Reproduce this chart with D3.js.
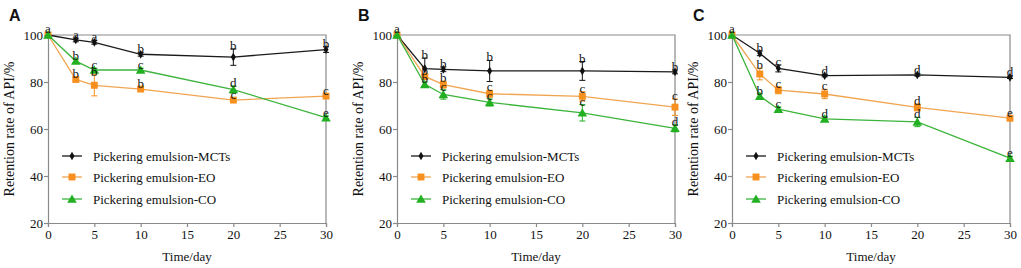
<!DOCTYPE html>
<html>
<head>
<meta charset="utf-8">
<script src="https://cdn.jsdelivr.net/npm/d3@7"></script>
<style>
  body { margin: 0; background: #fff; }
  svg { display: block; }
</style>
</head>
<body>
<svg id="chart" width="1021" height="268"></svg>
<script>
// --- Data ---
const days = [0, 3, 5, 10, 20, 30];
const seriesNames = ["Pickering emulsion-MCTs", "Pickering emulsion-EO", "Pickering emulsion-CO"];
const panelLabels = ["A", "B", "C"];
const xTicks = [0, 5, 10, 15, 20, 25, 30];
const yTicks = [20, 40, 60, 80, 100];

// Panel A
const aMCTs = [100, 97.9, 96.9, 91.8, 90.6, 93.8];
const aMCTsErr = [0.3, 0.8, 0.8, 0.8, 3.5, 1.2];
const aMCTsSig = ["a", "a", "a", "b", "b", "b"];
const aEO = [100, 81.1, 78.6, 77.0, 72.3, 74.0];
const aEOErr = [0.3, 1.0, 4.5, 0.8, 0.8, 0.8];
const aEOSig = ["", "b", "b", "b", "c", "c"];
const aCO = [100, 88.9, 85.1, 85.1, 76.8, 64.8];
const aCOErr = [0.3, 0.8, 0.8, 0.8, 1.5, 0.8];
const aCOSig = ["", "b", "c", "c", "d", "e"];

// Panel B
const bMCTs = [100, 85.7, 85.4, 84.7, 84.7, 84.3];
const bMCTsErr = [0.3, 4.5, 1.0, 4.5, 4.0, 0.8];
const bMCTsSig = ["a", "b", "b", "b", "b", "b"];
const bEO = [100, 82.4, 78.9, 75.0, 73.9, 69.3];
const bEOErr = [0.3, 1.0, 1.5, 1.5, 2.0, 3.5];
const bEOSig = ["", "b", "b", "c", "c", "c"];
const bCO = [100, 79.0, 74.7, 71.3, 66.9, 60.3];
const bCOErr = [0.3, 1.0, 2.0, 1.5, 3.5, 1.5];
const bCOSig = ["", "b", "c", "c", "c", "d"];

// Panel C
const cMCTs = [100, 92.2, 85.8, 82.7, 83.0, 82.0];
const cMCTsErr = [0.3, 1.0, 1.5, 0.5, 0.5, 0.5];
const cMCTsSig = ["a", "b", "c", "d", "d", "d"];
const cEO = [100, 83.4, 76.5, 74.9, 69.2, 64.6];
const cEOErr = [0.3, 2.5, 1.5, 2.0, 1.5, 1.0];
const cEOSig = ["", "b", "c", "c", "d", "e"];
const cCO = [100, 74.0, 68.4, 64.3, 63.0, 47.6];
const cCOErr = [0.3, 1.0, 1.0, 1.0, 2.0, 0.8];
const cCOSig = ["", "b", "c", "d", "d", "e"];

const panels = [
  [[aMCTs, aMCTsErr, aMCTsSig], [aEO, aEOErr, aEOSig], [aCO, aCOErr, aCOSig]],
  [[bMCTs, bMCTsErr, bMCTsSig], [bEO, bEOErr, bEOSig], [bCO, bCOErr, bCOSig]],
  [[cMCTs, cMCTsErr, cMCTsSig], [cEO, cEOErr, cEOSig], [cCO, cCOErr, cCOSig]]
];

// --- Styles ---
const serif = "'Liberation Serif', 'Times New Roman', serif";
const axisColor = "#8a8a8a";
const lineColors = ["#1a1a1a", "#f0a552", "#3cb43c"];
const markColors = ["#111111", "#f7901e", "#22b022"];
const symbols = [d3.symbolDiamond, d3.symbolSquare, d3.symbolTriangle];
const symbolSizes = [22, 48, 40];

// --- Layout ---
const panelX = [0, 349, 684];
const margin = { left: 48, top: 35, bottom: 45 };
const plotW = 278;
const plotH = 268 - margin.top - margin.bottom;

const svg = d3.select("#chart");

panels.forEach((series, p) => {
  const g = svg.append("g").attr("transform", `translate(${panelX[p]},0)`);

  const x = d3.scaleLinear().domain([0, 30]).range([margin.left, margin.left + plotW]);
  const y = d3.scaleLinear().domain([20, 100]).range([margin.top + plotH, margin.top]);

  // panel letter
  g.append("text")
    .attr("x", 9).attr("y", 21)
    .attr("font-family", "Arial, 'Liberation Sans', sans-serif")
    .attr("font-weight", "bold").attr("font-size", 16)
    .attr("fill", "#111")
    .text(panelLabels[p]);

  // frame (top & right)
  g.append("path")
    .attr("d", `M${x(0)},${y(100)}H${x(30)}V${y(20)}`)
    .attr("fill", "none").attr("stroke", axisColor).attr("stroke-width", 1.2);

  // axes
  const xAxis = g.append("g")
    .attr("transform", `translate(0,${y(20)})`)
    .call(d3.axisBottom(x).tickValues(xTicks).tickSize(4).tickPadding(3));
  const yAxis = g.append("g")
    .attr("transform", `translate(${x(0)},0)`)
    .call(d3.axisLeft(y).tickValues(yTicks).tickSize(4).tickPadding(1));
  [xAxis, yAxis].forEach(ax => {
    ax.select(".domain").attr("stroke", axisColor).attr("stroke-width", 1.2);
    ax.selectAll(".tick line").attr("stroke", axisColor).attr("stroke-width", 1.2);
    ax.selectAll(".tick text")
      .attr("fill", "#111").attr("font-family", serif).attr("font-size", 13);
  });

  // axis titles
  g.append("text")
    .attr("x", x(15)).attr("y", 261)
    .attr("text-anchor", "middle")
    .attr("font-family", serif).attr("font-size", 13).attr("fill", "#111")
    .text("Time/day");
  g.append("text")
    .attr("transform", `translate(14,${y(60)}) rotate(-90)`)
    .attr("text-anchor", "middle")
    .attr("font-family", serif).attr("font-size", 14).attr("fill", "#111")
    .text("Retention rate of API/%");

  const line = d3.line().x((d, i) => x(days[i])).y(d => y(d));

  // lines, error bars, markers
  series.forEach(([vals, errs], s) => {
    g.append("path")
      .attr("d", line(vals))
      .attr("fill", "none").attr("stroke", lineColors[s]).attr("stroke-width", 1.3);

    const eb = g.append("g").attr("stroke", markColors[s]).attr("stroke-width", 1);
    vals.forEach((v, i) => {
      if (i === 0) return;
      const cx = x(days[i]);
      eb.append("line").attr("x1", cx).attr("x2", cx)
        .attr("y1", y(v - errs[i])).attr("y2", y(v + errs[i]));
      [v - errs[i], v + errs[i]].forEach(e => {
        eb.append("line").attr("x1", cx - 3).attr("x2", cx + 3)
          .attr("y1", y(e)).attr("y2", y(e));
      });
    });

    g.selectAll(null)
      .data(vals)
      .join("path")
      .attr("transform", (d, i) => `translate(${x(days[i])},${y(d) + (s === 2 ? 1 : 0)})`)
      .attr("d", d3.symbol().type(symbols[s]).size(symbolSizes[s]))
      .attr("fill", markColors[s]);
  });

  // significance letters (drawn last, over markers)
  series.forEach(([vals, errs, sig]) => {
    g.selectAll(null)
      .data(vals)
      .join("text")
      .attr("x", (d, i) => x(days[i]))
      .attr("y", (d, i) => i === 0 ? y(d) - 2 : Math.min(y(d + errs[i]) + 1, y(d) - 1))
      .attr("text-anchor", "middle")
      .attr("font-family", serif).attr("font-size", 13).attr("fill", "#111")
      .text((d, i) => sig[i]);
  });

  // legend
  const leg = g.append("g").attr("transform", `translate(${x(0) + 14},0)`);
  const legY = [156, 177, 199];
  seriesNames.forEach((name, s) => {
    leg.append("line")
      .attr("x1", 0).attr("x2", 20).attr("y1", legY[s]).attr("y2", legY[s])
      .attr("stroke", lineColors[s]).attr("stroke-width", 1.3);
    leg.append("path")
      .attr("transform", `translate(10,${legY[s] + (s === 2 ? 1 : 0)})`)
      .attr("d", d3.symbol().type(symbols[s]).size(symbolSizes[s]))
      .attr("fill", markColors[s]);
    leg.append("text")
      .attr("x", 31).attr("y", legY[s] + 4.5)
      .attr("font-family", serif).attr("font-size", 13).attr("fill", "#111")
      .text(name);
  });
});
</script>
</body>
</html>
